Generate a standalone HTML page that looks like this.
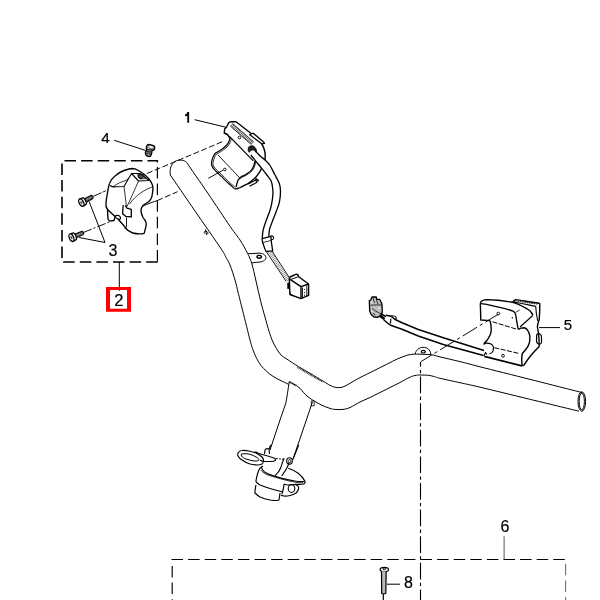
<!DOCTYPE html>
<html><head><meta charset="utf-8">
<style>
html,body{margin:0;padding:0;background:#fff;}
svg{display:block;}
text{font-family:"Liberation Sans",sans-serif;font-size:16px;fill:#000;stroke:#000;stroke-width:0.2px;}
</style></head><body>
<svg width="600" height="600" viewBox="0 0 600 600">
<g fill="none" stroke="#000" stroke-width="1" stroke-linecap="butt" stroke-linejoin="round">

<!-- upper dashed box -->
<g stroke-width="1.6" stroke-dasharray="11.5 5.1">
<line x1="64.5" y1="160.8" x2="158.1" y2="160.8" stroke-width="1.5"/>
<line x1="157.4" y1="160" x2="157.4" y2="162.6" stroke-dasharray="none" stroke-width="1.2"/>
<line x1="62" y1="163.5" x2="62" y2="262"/>
<line x1="63.2" y1="262" x2="158" y2="262"/>
<line x1="157.4" y1="167" x2="157.4" y2="262" stroke-width="1.2"/>
</g>
<line x1="119.3" y1="262" x2="119.3" y2="290.8"/>
<path d="M106,287 H131 V311.8 H106 Z M110,290 V308.8 H127 V290 Z" fill="#ff0000" fill-rule="evenodd" stroke="none"/>

<!-- lower dashed box -->
<g stroke-width="1.15" stroke-dasharray="11.5 5.1">
<line x1="171.5" y1="559.5" x2="566" y2="559.5"/>
<line x1="172.2" y1="566" x2="172.2" y2="600"/>
<line x1="565.6" y1="563.8" x2="565.6" y2="600" stroke="#666" stroke-width="1"/>
</g>
<line x1="504.1" y1="536.3" x2="504.1" y2="559.5" stroke="#555"/>

<!-- leaders -->
<line x1="194.7" y1="119.7" x2="225.8" y2="127.2"/>
<line x1="114.2" y1="140.3" x2="145.8" y2="150.5"/>
<polyline points="89.2,201.7 105,242.5 79.2,237.5"/>
<line x1="539" y1="327.6" x2="560" y2="327.6"/>
<line x1="387" y1="584.2" x2="400" y2="584.2"/>

<!-- dashed assembly lines -->
<g stroke-width="0.95">
<line x1="147" y1="173.5" x2="224" y2="141" stroke-dasharray="6 2.4"/>
<line x1="157.3" y1="200.6" x2="177.5" y2="191.7" stroke-dasharray="6 2.4"/>
<line x1="208.3" y1="178.3" x2="223" y2="170.3"/>
<line x1="93.3" y1="196.3" x2="105.8" y2="190.8" stroke-dasharray="9 1.5"/>
<line x1="83.3" y1="232.5" x2="110" y2="221.7" stroke-dasharray="9 2 2 2"/>
<line x1="420.8" y1="361.7" x2="498.3" y2="314.2" stroke-dasharray="16.7 3.3 3.3 3.3" stroke-dashoffset="4"/>
<line x1="420.5" y1="362" x2="420.5" y2="600" stroke-dasharray="16.7 3.3 3.3 3.3" stroke-dashoffset="12" stroke-width="1.1"/>
</g>

<!-- handlebar tube -->
<path d="M186.7,162.5 C184,159.5 178,159.5 175,161.5 C171,164 169.5,169 170.3,175"/>
<path d="M170.3,175.0 C174.4,181.0 186.6,198.8 195.0,211.0 C203.4,223.2 215.7,240.7 220.8,248.3 C225.9,255.9 224.0,253.7 225.5,256.5 C227.0,259.3 228.4,261.1 230.0,265.0 C231.6,268.9 233.6,275.3 235.0,280.0 C236.4,284.7 237.1,288.3 238.3,293.3 C239.6,298.3 241.1,304.4 242.5,310.0 C243.9,315.6 245.4,321.7 246.7,326.7 C247.9,331.7 249.0,336.4 250.0,340.0 C251.0,343.6 251.4,345.4 252.5,348.5 C253.6,351.6 255.3,355.7 256.7,358.5 C258.1,361.3 259.3,363.3 261.0,365.5 C262.7,367.7 264.7,369.7 266.7,371.5 C268.7,373.3 270.8,374.9 273.0,376.3 C275.2,377.8 277.4,378.9 280.0,380.2 C282.6,381.5 286.9,383.5 288.3,384.2"/>
<path d="M186.7,162.5 C190.2,167.7 200.7,182.8 208.0,193.5 C215.3,204.2 225.0,218.9 230.3,226.7 C235.6,234.4 237.1,235.6 240.0,240.0 C242.9,244.4 245.6,249.4 247.5,253.3 C249.4,257.2 250.3,258.7 251.7,263.3 C253.1,267.9 254.5,274.6 256.0,281.0 C257.5,287.4 259.3,295.7 260.8,301.7 C262.3,307.7 263.6,312.0 265.0,317.0 C266.4,322.0 267.9,327.7 269.2,331.7 C270.4,335.7 271.3,338.2 272.5,341.0 C273.7,343.8 275.1,346.2 276.5,348.5 C277.9,350.8 279.2,353.2 281.0,355.0 C282.8,356.8 284.1,357.3 287.0,359.2 C289.9,361.1 294.5,364.1 298.3,366.5 C302.1,368.9 305.9,370.9 310.0,373.3 C314.1,375.7 319.7,379.1 323.0,381.1 C326.3,383.1 328.1,384.3 330.0,385.3 C331.9,386.3 332.8,386.7 334.5,387.1 C336.2,387.5 338.2,387.8 340.0,387.6 C341.8,387.4 343.0,387.0 345.0,386.1 C347.0,385.2 349.5,383.5 352.0,382.1 C354.5,380.7 356.4,379.5 360.0,377.6 C363.6,375.8 368.9,373.2 373.3,371.0 C377.8,368.8 382.7,366.3 386.7,364.3 C390.7,362.3 394.0,360.5 397.3,359.0 C400.6,357.5 404.0,356.2 406.7,355.4 C409.4,354.6 411.1,354.4 413.3,354.2 C415.5,354.0 416.9,354.1 420.0,354.2 C423.1,354.3 428.4,354.4 431.7,354.8 C435.0,355.2 435.3,355.8 440.0,356.9 C444.7,358.0 453.3,360.0 460.0,361.6 C466.7,363.2 468.2,363.8 480.0,366.8 C491.8,369.8 514.0,375.3 531.0,379.6 C548.0,383.9 573.5,390.4 582.0,392.5"/>
<path d="M289.2,381.7 C290.2,382.2 293.2,383.7 295.0,384.8 C296.8,385.9 298.6,387.1 300.0,388.3 C301.4,389.6 302.1,391.0 303.3,392.3 C304.5,393.6 305.6,394.8 307.0,396.0 C308.4,397.2 310.2,398.5 311.7,399.5 C313.2,400.5 314.3,401.0 316.0,402.0 C317.7,403.0 319.7,404.2 322.0,405.3 C324.3,406.4 327.8,407.7 330.0,408.4 C332.2,409.1 332.8,409.2 335.0,409.4 C337.2,409.6 340.5,409.7 343.0,409.4 C345.5,409.1 347.2,408.7 350.0,407.5 C352.8,406.3 356.7,403.7 360.0,402.0 C363.3,400.3 366.7,399.1 370.0,397.5 C373.3,395.9 376.7,394.2 380.0,392.5 C383.3,390.8 386.7,389.2 390.0,387.5 C393.3,385.8 396.7,384.2 400.0,382.5 C403.3,380.8 407.5,378.4 410.0,377.2 C412.5,376.0 413.3,375.9 415.0,375.5 C416.7,375.1 417.8,375.0 420.0,375.0 C422.2,375.0 426.0,375.1 428.3,375.3 C430.6,375.6 432.1,376.0 434.0,376.5 C435.9,377.0 435.7,377.3 440.0,378.3 C444.3,379.3 453.3,381.2 460.0,382.7 C466.7,384.2 468.4,384.4 480.0,387.2 C491.6,389.9 513.0,395.2 529.5,399.2 C546.0,403.2 570.8,409.2 579.0,411.2"/>
<ellipse cx="581.8" cy="401.5" rx="3.8" ry="9.7"/>
<ellipse cx="581.8" cy="401.5" rx="2.6" ry="8.3"/>
<path d="M289.2,381.7 L296,385.5" stroke-width="1.8" stroke="#333" stroke-dasharray="1 0.5"/>
<path d="M297.5,367.3 L322.5,381.8" stroke-width="1.6" stroke="#333" stroke-dasharray="1 0.6"/>
<!-- stem -->
<path d="M289.2,381.7 C288,390 287,397 285.8,403.3 L280,420 L270,450"/>
<path d="M312.5,401.7 L306.7,419 L293.3,458.3"/>
<rect x="311.3" y="400.8" width="2.9" height="5" stroke-width="0.8"/>
<!-- brackets -->
<path d="M415,354.2 C416,350 419,347.5 423,347.3 C427,347.2 430.5,349.5 430.8,354.5"/>
<ellipse cx="423.3" cy="351.7" rx="2" ry="1.3" stroke-width="1.2"/>
<path d="M248.3,253.5 C252,254 256,253 260,253.2 C264,253.5 266.5,256 265.8,258.5 C265,261 261,262.5 256,262.3 L251.7,263"/>
<ellipse cx="259.2" cy="256.8" rx="2.2" ry="1.4" stroke-width="1.4"/>
<path d="M205.5,229.5 L206.5,234.5 M204.5,233.5 C203.5,232 205,230.5 207,231.5 C208.5,232.5 208,234.5 206,234.5"/>

<!-- stem clamp -->
<g stroke-width="1.15">
<path d="M270.7,445 L269,449"/>
<path d="M298.7,445 L292.7,459.7"/>
<path d="M264.5,454 L265,450 C265.5,448.8 267.5,448.5 269,449 L269.5,454" />
<!-- loop -->
<path d="M238,453 C239,451.2 240.5,450.5 242,450.5 C244.5,450.3 247,450.6 249,451 C251.5,451.6 254,452.3 256,453 C258.5,454.2 260.5,455.5 262,457 C263.2,458.3 263.7,459.7 263.5,461 C263.2,462.5 262.7,463.5 262,464 C260.5,464.8 259,465.1 257,465 C254.5,464.8 252,464.5 250,464 C247,463.2 244.5,461.8 242,460 C240.3,459 238.8,457.5 238,456 C237.7,455 237.7,454 238,453 Z"/>
<path d="M241.5,454 C243.5,453.6 246.5,453.7 249,454 C251.8,454.7 254.5,456 257,457.5 C258.2,458.3 259,459.2 259,460 C258.5,460.8 256.5,461.2 254,461 C251,460.6 248.5,459.8 246,459 C244,458.2 242.5,457.2 241.5,456 C241.2,455.2 241.2,454.5 241.5,454 Z" stroke-width="1"/>
<path d="M254,452.3 C255.5,451.8 257,452.2 258,453.2 C260,454 262,454.5 264,455 C266.5,455.6 269,456.3 271,457 C272.7,457.5 274,458 275,458.5 C275.6,459.3 275.6,460 275,460.5 C274,461.2 273,461.5 272,461.5 L264,461.5 C262.5,461.2 261,460.8 260,460"/>
<path d="M276,458.5 L285,459.5" stroke-width="0.9" stroke-dasharray="2 1"/>
<ellipse cx="289.5" cy="461" rx="2.8" ry="3.2" stroke-width="1.1"/>
<ellipse cx="289.8" cy="461.2" rx="1.2" ry="1.8" stroke-width="0.8"/>
<!-- collar -->
<path d="M263,466 C261.5,467 260.5,467.8 260,468 C258.8,470 258,472 257.5,474 C256.8,476.5 256.3,478.7 256,481 L256,482"/>
<path d="M261,467 C262,469 263,470.8 264.5,472 C267,473.6 270,474.8 273,475.6 C276.5,476.8 280,477.8 283,478.6 C287,479.6 291.5,480.6 296,481.2 C299,481.6 302,481.7 304.8,481.5"/>
<path d="M260.8,470 C262,471.8 264,473.2 266,474.2 C269,475.5 271.5,476.3 274,476.9 C277,477.7 280,478.6 283,479.4 C287,480.5 291.5,481.6 296,482.3 C299,482.7 301.5,482.8 303,482.8" stroke-width="0.8"/>
<path d="M275,475.6 C277.5,473.5 279.5,471 280.5,468.3 C281.5,465.5 282.2,463 282.8,461.5 C283.3,460 283.8,459 284.2,458.3" />
<path d="M281.7,476 C283.5,473.5 285.3,471 286.7,468.3 C287.8,466 288.5,464 289.2,462.5" />
<path d="M288.3,468.3 C292,469.5 295.5,471.2 298.5,473.5 C301,475.5 303.2,478 304.8,481 C305.6,482.2 305,483.6 303.5,484 C301.5,484.5 298.5,484.5 295,484.2" />
<path d="M256,482 C257,482.8 258.5,483.8 260,485 C263,486.3 266.5,487.5 270,488.5 C273,489.5 276,490.3 279,491 L283,492"/>
<path d="M284,484 L283.5,488 L282,494"/>
<path d="M256,485 C255.5,487 255.2,489 255,491 L255,493 C256.5,494.5 258,495.8 260,497 C263,498.3 266.5,499.3 270,500 C272.5,500.4 275,500.6 277,500.5 L279,500 L280,493"/>
<path d="M284,484 C285.5,484.7 286.8,485 288,485 C290,484.8 292,484.4 294,484.5 C296,484.8 297.3,485.2 298,486 C298.8,487 298.9,488 298.5,489 C298,490.5 297.2,492 296,493 C294,494.3 292,495 290,495.5 C288,496 286,496.2 284,496 C282.8,495.8 281.8,495.5 281,495"/>
<ellipse cx="291.5" cy="488.5" rx="3.3" ry="3.9" stroke-width="1.1"/>
</g>

<!-- part 2 cover (left housing) -->
<g stroke-width="1.35">
<path d="M109.5,183.5 C111,180 113,177.5 115,176 C118,173.5 121,171.5 124,170.5 C127,169.5 130,168.6 132,168.5 C134,168.5 136,169 137.5,170 L143,173.5 C145.5,175 147.5,177 149,179 C150.5,181 152,183 152.6,185.5 C153.2,188 153,191 152.5,193 C152.2,195.5 151.7,197.5 151,198.8 C150,200.3 149,201.5 147.5,202.5 C146,203.6 144.3,204.5 143,205.6 C142,206.8 141.4,207.8 141.2,208.8 C141,210 141,211.3 141.2,212.5 C141.6,214.5 142.3,216 143,217.5 C144,219 145,220.2 145.6,221.3 C146.2,222.5 146.3,223.8 146.2,225 C146,226.8 145.5,228.5 145,230 C144.8,231.2 144.6,232.2 144.2,233.3 C140,234.2 136,233.8 133,233 C131,232.3 129,231 127.5,230 C126.5,229 125.5,228 125,227 L118,219"/>
<path d="M109.5,183.5 C108.5,186 108,190 107.3,194 C106.6,198 106.1,201.5 106,203 C105.7,205 106,207.5 107.5,209.5 C107.7,213 107.8,216.5 108,219 C108.5,220.2 109.5,221 110,221.2 L114,220.5 C114.7,219 115,217.5 115,216.5 L107.5,209.5"/>
<path d="M115,216.5 C115.5,215.5 117,215.2 118.5,215.5 C119.8,216 120.7,217 120.5,218.5 C120,219.5 119,219.5 118,219 C117,218.5 116,218 115,216.5" stroke-width="1.1"/>
<path d="M124.5,228.5 C125.5,228.3 127.5,229.2 129,231.5" stroke-width="1"/>
<path d="M142.5,206.3 C145,205 150,203 157.3,200.6" stroke-width="1"/>
<path d="M110,185.5 C112,187 114.5,187 116,186.8 L124,186.5 L131.5,173.5 L140,173.5 L149,180.5 L138.5,181 L131.5,173.5" stroke-width="1.1"/>
<path d="M113.5,186.5 C117,183.5 122,181.5 126,180.5 C127,180 128,179 128.5,178" stroke-width="0.8"/>
<path d="M124,186.5 C125,193 125.5,200 126.5,207 M138.5,181 C135,189 131,198 127,206.5 M152.2,187 C144,190 136,195 129.5,204" stroke-width="0.8"/>
<path d="M123.2,205 C123,208 122.7,211 122.6,213.8 L125.6,216.3 L131.3,216.9 L131.3,209.4 L127,208.2 L125.2,205.5" stroke-width="1.3"/>
<line x1="126.5" y1="217.5" x2="126.5" y2="227.5" stroke-width="0.9"/>
<ellipse cx="140.8" cy="176.5" rx="2.6" ry="2" fill="#555" stroke-width="1"/>
<path d="M137.5,174.5 L143.5,174.5 L146,178.5 L140,179 Z" stroke-width="0.7"/>
</g>
<!-- screw 4 -->
<g stroke-width="1.2">
<path d="M146.3,146.7 C146.8,145 147.5,144.3 148.7,144.3 L152.7,145.3 C154,145.7 154.7,146.2 154.7,146.7 L154.7,148.7 C154.5,149.7 153.8,150.3 153.3,150.3 L152,150.7 C152,151.5 151.9,152.5 151.7,153.3 L150.7,156 C150,156.5 149,156.6 148.3,156.5 C147,156.2 146,155.5 145.7,154.7 L145.3,152.7 C145.5,151.5 146,150.8 146.7,150.3 C146.5,149.5 146.3,149 146.3,148.3 Z" fill="#777"/>
<path d="M148.5,146.5 C149.5,146 152,146.5 153,147.3 C152,148 150,147.8 148.5,146.5 Z" fill="#fff" stroke="#fff" stroke-width="0.8"/>
<path d="M147,149.5 L153.5,150 M146.5,151.5 L151.8,152 M146.3,153.5 L151.5,154.2" stroke="#111" stroke-width="0.8"/>
<circle cx="148.5" cy="148.5" r="0.6" fill="#fff" stroke="none"/>
<circle cx="148.5" cy="154.5" r="0.7" fill="#ccc" stroke="none"/>
</g>

<!-- bolts 3 -->
<g transform="translate(81,202.8) rotate(-28) scale(1.2)">
<path d="M3.8,-1.6 L10.5,-1.4 C11.3,-1.3 11.3,1.3 10.5,1.4 L3.8,1.6" fill="#999" stroke-width="1"/>
<path d="M5.5,-1.4 L5.5,1.4 M7,-1.4 L7,1.4 M8.5,-1.3 L8.5,1.3 M10,-1.3 L10,1.3" stroke="#444" stroke-width="0.6"/>
<path d="M0.3,-3.3 L3.3,-3 C4.5,-2.8 4.6,2.8 3.3,3 L0.3,3.3" fill="#fff" stroke-width="1.1"/>
<ellipse cx="0.3" cy="0" rx="1.8" ry="3.3" fill="#fff" stroke-width="1.1"/>
<ellipse cx="0.3" cy="0" rx="0.8" ry="1.4" fill="#555" stroke="none"/>
</g>
<g transform="translate(71.1,237.8) rotate(-23) scale(1.2)">
<path d="M3.8,-1.6 L10.5,-1.4 C11.3,-1.3 11.3,1.3 10.5,1.4 L3.8,1.6" fill="#999" stroke-width="1"/>
<path d="M5.5,-1.4 L5.5,1.4 M7,-1.4 L7,1.4 M8.5,-1.3 L8.5,1.3 M10,-1.3 L10,1.3" stroke="#444" stroke-width="0.6"/>
<path d="M0.3,-3.3 L3.3,-3 C4.5,-2.8 4.6,2.8 3.3,3 L0.3,3.3" fill="#fff" stroke-width="1.1"/>
<ellipse cx="0.3" cy="0" rx="1.8" ry="3.3" fill="#fff" stroke-width="1.1"/>
<ellipse cx="0.3" cy="0" rx="0.8" ry="1.4" fill="#555" stroke="none"/>
</g>

<!-- part 1 switch -->
<g stroke-width="1.4">
<path d="M227,126.5 L228.5,123 C229.2,122 230.2,121.8 231.5,121.8 L236,121.8 L238,123.3 L250.8,133.2"/>
<path d="M250.8,133.75 L253.3,133.3 L263.3,141.7 L264.6,143.3 L261.7,143.8 L249.8,134.8 Z" stroke-width="1.3"/>
<path d="M261.7,144 C264,147.5 265.3,152 265.2,156 L265,160"/>
<path d="M227,126.5 L224.7,129 L224.2,133 L227.5,134.5 L229.5,137.5"/>
<path d="M229.5,137.5 C229.5,137.9 230.0,138.6 229.6,139.8 C229.2,141.1 228.3,143.4 227.0,145.0 C225.7,146.6 223.3,148.2 221.5,149.5 C219.7,150.8 217.3,151.7 216.0,152.8 C214.7,153.9 214.2,154.5 213.5,156.0 C212.8,157.5 212.0,160.0 211.7,161.6 C211.4,163.2 211.3,164.0 211.7,165.3 C212.1,166.6 212.8,167.8 214.0,169.2 C215.2,170.6 217.1,172.3 218.7,173.8 C220.2,175.3 221.6,176.6 223.3,178.3 C225.0,180.0 227.1,182.1 228.9,183.8 C230.8,185.5 233.5,187.8 234.4,188.6" stroke-width="1.2"/>
<path d="M234.4,188.6 C236,189 237,189 238,188.3"/>
<path d="M230.9,138.2 C230.9,138.5 231.4,138.9 231.0,140.2 C230.6,141.5 229.6,144.2 228.2,145.9 C226.8,147.6 224.3,149.3 222.5,150.6 C220.7,151.9 218.4,152.8 217.1,153.8 C215.8,154.8 215.6,155.5 214.9,156.8 C214.2,158.1 213.5,160.4 213.2,161.8 C212.9,163.2 212.8,163.9 213.2,165.0 C213.5,166.1 214.2,167.2 215.3,168.5 C216.4,169.8 218.3,171.3 219.8,172.8 C221.3,174.3 222.7,175.6 224.4,177.3 C226.1,179.0 228.2,181.1 230.0,182.8 C231.8,184.5 234.5,186.6 235.4,187.4" stroke-width="0.8"/>
<path d="M229.5,136.5 L253.3,160.8" stroke-width="1.1"/>
<path d="M217.8,154.7 L239.9,178.1" stroke-width="0.9"/>
<path d="M255,161 C254.5,164 253.8,166.5 252.7,168.3 C251.5,170.5 250,172 248,173 C246,174.5 243.5,175.8 241.3,176.7 C240,177.5 239.2,178.2 238.7,179 C238,180 237.6,181 237.3,182.3 L236,187" stroke-width="1.3"/>
<path d="M255.8,161.2 C255.3,164.5 254.6,167 253.5,168.8 C252.2,171 250.7,172.5 248.7,173.7 C246.7,175 244.3,176.3 242,177.3 C240.8,178 240,178.8 239.6,179.6" stroke-width="0.8"/>
<path d="M261.5,168.5 C260.5,171 259.5,172.8 258,174.3 C257,175.8 256,177 254.7,178.3 C252.5,180.2 250.5,182 248,183.7 C245.5,185 243.5,186 241.3,187 C240,187.7 238.8,188.3 237.3,188.7" />
<path d="M248.3,184 L255.7,180 L257,182.3 L249.5,186.3" stroke-width="1.2"/>
<path d="M255.5,178.5 L258.7,181" stroke-width="1.6"/>
<path d="M231.5,124.8 L252.5,143.2" stroke-width="3.4" stroke="#444" stroke-dasharray="0.8 0.8"/>
<path d="M232.6,123.5 L253.6,141.8 M230.3,126.1 L251.3,144.5" stroke-width="0.8"/>
<path d="M248.3,147.5 C249.5,146 251.5,145.5 253,146 C254.5,146.6 255.5,147.8 256.2,149.5 L256.5,151.8 C255.5,150.8 254.5,150 253,149.8 C251.5,149.8 250,150.8 249.2,152.3 L248.3,150.5 Z" fill="#222" stroke-width="0.9"/>
<circle cx="239.5" cy="137.5" r="1.3" stroke-width="0.9"/>
<circle cx="224.8" cy="169.5" r="1.3" stroke-width="0.9"/>
</g>

<!-- cable from part 1 -->
<g stroke-width="1.3">
<path d="M255.0,150.8 C256.0,151.8 259.3,155.3 261.0,156.8 C262.7,158.3 263.5,158.6 265.0,160.0 C266.5,161.4 268.3,163.0 270.0,165.5 C271.7,168.0 273.4,172.0 275.0,175.0 C276.6,178.0 278.5,181.0 279.4,183.7 C280.3,186.4 280.5,188.2 280.5,191.3 C280.5,194.4 280.1,198.7 279.4,202.1 C278.7,205.5 277.3,208.6 276.1,211.8 C274.9,215.1 273.4,218.7 272.3,221.6 C271.2,224.5 270.2,226.7 269.6,229.2 C269.0,231.7 268.9,235.4 268.8,236.6"/>
<path d="M250.8,155.0 C251.4,155.7 253.1,157.8 254.2,159.2 C255.3,160.6 256.2,161.8 257.5,163.3 C258.8,164.8 260.1,166.4 261.7,168.3 C263.3,170.2 265.3,172.8 266.9,175.0 C268.5,177.2 270.3,178.8 271.3,181.5 C272.3,184.2 272.7,188.2 272.9,191.3 C273.1,194.4 272.8,196.8 272.3,199.9 C271.9,203.0 271.3,206.1 270.2,209.7 C269.1,213.3 267.0,218.2 265.8,221.6 C264.6,225.0 263.7,227.5 263.1,230.3 C262.5,233.1 262.4,237.2 262.2,238.6"/>
<path d="M262.1,238.7 L270.8,236.4 L271.3,240.6 L262.6,242.8 Z" fill="#fff"/>
<path d="M270.8,236 C272.5,235.5 273.8,236.5 273.6,238 C273.4,239.3 272.3,239.8 271.2,239.6" stroke-width="1.1"/>
<path d="M262.8,243 L265.8,251.4 L272.7,251 L271.2,240.8" fill="#fff"/>
<path d="M266.5,251.8 L286,281.2 M272.2,251.3 L290.5,279.5" stroke-width="0.9"/>
<path d="M269.3,251.5 L288.2,280.3" stroke-width="4" stroke="#666" stroke-dasharray="0.6 1.1"/>
</g>
<!-- connector box -->
<g stroke-width="1.4">
<path d="M289.3,278.5 L290,277 L296.3,274.1 L298.1,275 L298.7,276.8 L308.6,284 L308.6,295.4 L301,298.6 L289.9,294.5 Z" fill="#fff"/>
<path d="M289.3,278.8 L301,286.7 L301,298.3 M301,286.7 L308.6,284"/>
<path d="M290.5,279.5 L297.5,277 L298.7,276.8" stroke-width="1"/>
<path d="M302.5,287.5 L302.5,297.8 M306.8,285.5 L306.8,296" stroke-width="0.9"/>
<circle cx="304.5" cy="289.5" r="0.6" fill="#000" stroke="none"/>
<circle cx="304.5" cy="292.5" r="0.6" fill="#000" stroke="none"/>
<circle cx="304.5" cy="295.2" r="0.6" fill="#000" stroke="none"/>
<path d="M287.6,283 L289.4,283 L289.4,288.6 L287.6,288.6 Z" fill="#000" stroke-width="0.6"/>
<path d="M290.3,292.8 C290.5,294.5 291.5,295.2 292.6,295" stroke-width="1"/>
</g>

<!-- right switch (part 5) -->
<g stroke-width="1.4">
<path d="M480.3,303.5 C480.5,302 481,301.3 482,300.8 C483.5,300 485,299.6 486.7,299.6 L498.3,300.2 L510,301.9 L513.5,302.5 C516,303.5 519,304.5 521.7,306 C524.5,307.5 527.5,309 529.8,310.7 C531.2,312 532.3,313.5 532.8,315.3"/>
<path d="M480.3,303.7 C482,304 484.5,304.2 486.7,304.3 C492,305.5 498,306.8 504.2,308.3 C507.5,309.3 510.5,310.3 513.5,311.3 C514.8,312.3 515.5,313.8 515.8,315.3 C516.5,320 517.3,325 518.2,329.3" stroke-width="1.3"/>
<path d="M480.3,303.7 L480.6,312 L480.8,320 L490.2,320.6"/>
<path d="M492.5,321.8 L517,329.3" stroke-width="1" stroke-dasharray="5 1.5"/>
<path d="M532.8,315.5 L520,327" stroke-width="1.1"/>
<path d="M513.5,302.5 C514,301 514.5,300 515.3,299.6 C522,300.5 530,302 538,303 L539.8,303.7 C539.8,309 539.6,315 539.2,320"/>
<path d="M511.5,301.8 C520,303 528,304.8 535.7,306.3 L536.3,313 L537.7,321" stroke-width="1.1"/>
<path d="M513,300.6 L537.6,304.2" stroke-width="0.9" stroke-dasharray="1.5 0.8"/>
<path d="M515.7,312.3 L519.7,310" stroke-width="0.8"/>
<path d="M518.2,329.3 C520,328.3 522,327.8 524,327.8 C525.5,328 526.8,329 527.5,330.2 C528.8,332 529.5,334 529.8,336 C530,338.5 529.8,341 529.3,343 C528.5,345.5 527.5,347.3 526.3,348.8 C525,350.5 523.5,352 522.3,353.5 C521.8,356 521.7,358.5 521.7,360.5 C521.8,362.5 522,364.3 522.3,365.8"/>
<path d="M539.2,320 C538,323 537.4,324 537.4,327 L538.6,333.7 C539,338 539.2,342 539.2,346.5 L533,353 C530,356.5 527,360 524,365.2 L522.3,365.8"/>
<path d="M536.7,335 C537,333.8 538.5,333.4 540,334 C541.2,334.6 541.5,336 541.5,337.5 L541.5,342.5 C541.2,344 539.5,344.5 538,343.8 C537,343.2 536.5,342 536.5,341 Z" stroke-width="1.2"/>
<path d="M490.2,321 C490.7,323.5 491.2,326.5 491.3,329 C491.3,331 490.9,333 490.2,334.8 C489.2,337 488,339 486.7,340.7 C485.5,342 484.3,343 483.75,343.6"/>
<path d="M484.3,356.4 L522,365.8" stroke-width="1.8"/>
<path d="M494.3,347.7 L519.3,353.5" stroke-width="1" stroke-dasharray="5 1.5"/>
<path d="M483.5,344.5 C485,343 488,342.8 491,344 C493.5,345.5 493.8,348.5 493,351 C492.3,352.5 491,353.5 489.5,354 M484,355.8 L485.5,352.5 L487,354.5" stroke-width="1.1"/>
<circle cx="498.3" cy="313.6" r="1.4" stroke-width="0.9"/>
<circle cx="503" cy="355.8" r="1.4" stroke-width="0.9"/>
<circle cx="512.3" cy="317.7" r="0.7" fill="#000" stroke="none"/>
</g>
<!-- cable to right connector -->
<g stroke-width="1.5">
<path d="M386,315.3 C388,315.5 390,316 391.5,316.5 L394.7,319.3 L402,322.7 L418.3,329.5 L443.3,337.8 L484,350.5"/>
<path d="M383.3,319.3 C385,321 387,322.8 388.7,324 C390,325 391.5,325.6 392.7,326 L402,329.3 L418.3,336 L443.3,344.5 L483.5,355.5"/>
<path d="M390,316.2 C392,315.5 395,315.8 396,317.3 C396.6,318.5 396,319.5 394.7,319.6 M390.8,318.5 C391,320.5 391,322 390,323.5" stroke-width="1.1"/>
<path d="M372,297 L376.3,297 L376.7,299.3 L379.7,299.3 L382,304 L382.3,312 L381.3,315.3 L377.3,317.3 L374,317 L371.3,314.7 L369.7,311.3 L369.3,300.7 L370.7,300 Z" fill="#bdbdbd" stroke-width="1.3"/>
<path d="M373,298 L374.5,303 M376.5,300 L378,304 M370.5,305.3 C374,304.8 378,304.8 382,305 M372,308.5 C374,310 376,311.5 379.5,313 M373.5,313 L375,315.5" stroke-width="0.9" stroke="#222"/>
<path d="M371.5,302.5 L373,302.5 M378,308 L380,308.5 M371,311 L372.5,311.2" stroke-width="1.2" stroke="#fff"/>
<path d="M380,313.5 C382,314.5 384,315.5 386,316.5 M380.5,315.5 L385,318.5 M379,316 L383.5,319" stroke-width="1.5"/>
</g>
<!-- bolt 8 -->
<g stroke-width="1.2">
<ellipse cx="384.3" cy="569.5" rx="4.2" ry="2.1"/>
<ellipse cx="384.3" cy="569" rx="1.6" ry="0.8" stroke-width="0.8"/>
<path d="M381.5,571.3 L381.7,593.5 L383.5,594 L385.8,593.5 L386.2,571.3" fill="#bbb"/>
<line x1="383.3" y1="594" x2="383.3" y2="600"/>
</g>

</g>

<!-- labels -->
<defs><filter id="gs" x="0" y="0" width="600" height="600" filterUnits="userSpaceOnUse"><feColorMatrix type="saturate" values="0"/></filter></defs>
<g filter="url(#gs)">
<path d="M187.3,112.1 L189.1,112.1 L189.1,122.8 L187.3,122.8 L187.3,115.6 C186.8,116 186,116.2 185,116.2 L185,114.6 C186.2,114.4 187,113.5 187.3,112.1 Z" fill="#000" stroke="none"/>
<text x="101.3" y="143" style="font-size:15.3px">4</text>
<text x="108.6" y="255.9">3</text>
<text x="114.3" y="306.4" style="font-size:16.5px">2</text>
<text x="563.8" y="330.3" style="font-size:15px">5</text>
<text x="500.6" y="532.4">6</text>
<text x="403.9" y="588.3">8</text>
</g>
</svg>
</body></html>
